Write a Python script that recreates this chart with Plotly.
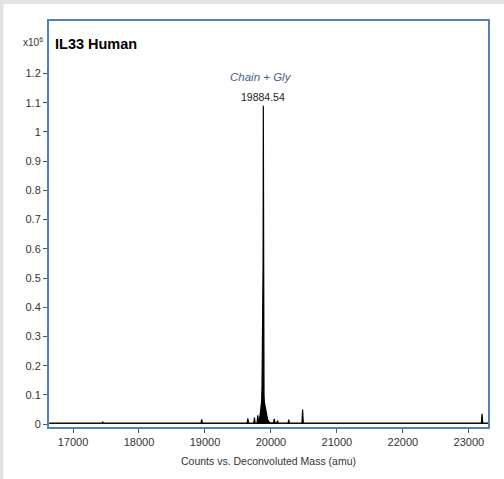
import plotly.graph_objects as go

# Deconvoluted mass spectrum (stick-like profile), intensity in units of 1e6 counts
mass = [16640, 17000, 17440, 17450, 17460, 18000, 18500, 18940, 18950, 18960,
        19400, 19640, 19650, 19660, 19740, 19750, 19760, 19790, 19800, 19810,
        19820, 19835, 19848, 19858, 19865, 19870, 19873, 19877, 19881, 19884.54,
        19887, 19890, 19895, 19900, 19910, 19920, 19935, 19950, 19970, 19990,
        20040, 20050, 20060, 20090, 20100, 20110, 20260, 20270, 20280, 20470,
        20480, 20490, 21000, 22000, 23190, 23200, 23210, 23290]
intensity = [0.003, 0.003, 0.003, 0.008, 0.003, 0.003, 0.003, 0.003, 0.016, 0.003,
             0.003, 0.003, 0.02, 0.003, 0.003, 0.022, 0.003, 0.004, 0.03, 0.008,
             0.015, 0.03, 0.055, 0.075, 0.13, 0.31, 0.18, 0.26, 0.55, 1.09,
             0.45, 0.22, 0.1, 0.075, 0.06, 0.045, 0.025, 0.015, 0.008, 0.004,
             0.004, 0.018, 0.004, 0.004, 0.012, 0.003, 0.003, 0.015, 0.003, 0.003,
             0.05, 0.003, 0.003, 0.003, 0.003, 0.035, 0.003, 0.003]

x_ticks = [17000, 18000, 19000, 20000, 21000, 22000, 23000]
y_ticks = [0, 0.1, 0.2, 0.3, 0.4, 0.5, 0.6, 0.7, 0.8, 0.9, 1, 1.1, 1.2]
y_tick_labels = ["0", "0.1", "0.2", "0.3", "0.4", "0.5", "0.6", "0.7", "0.8", "0.9", "1", "1.1", "1.2"]

peak_mass = 19884.54
peak_label = "19884.54"
peak_name = "Chain + Gly"
title_text = "IL33 Human"

narrow = "Liberation Sans Narrow, Arial Narrow, Liberation Sans, Arial, sans-serif"

fig = go.Figure()
fig.add_trace(go.Scatter(x=mass, y=intensity, mode="lines",
                         line=dict(color="black", width=1.2), fill="tozeroy",
                         fillcolor="black", showlegend=False, hoverinfo="skip"))

fig.update_layout(
    width=504, height=479,
    margin=dict(l=49, r=16, t=21, b=52),
    paper_bgcolor="white", plot_bgcolor="white",
    font=dict(family=narrow, size=11, color="#333"),
    xaxis=dict(range=[16636, 23290], tickvals=x_ticks, ticktext=[str(v) for v in x_ticks],
               showgrid=False, zeroline=False, ticks="outside", ticklen=4,
               tickcolor="#555", showline=True, linecolor="#4f81bd", linewidth=2,
               mirror=True, tickfont=dict(size=11, family=narrow, color="#333"),
               title=dict(text="Counts vs. Deconvoluted Mass (amu)", standoff=10,
                          font=dict(size=10.5, family=narrow, color="#333"))),
    yaxis=dict(range=[-0.01, 1.38], tickvals=y_ticks, ticktext=y_tick_labels,
               showgrid=False, zeroline=False, ticks="outside", ticklen=4,
               tickcolor="#555", showline=True, linecolor="#4f81bd", linewidth=2,
               mirror=True, tickfont=dict(size=11, family=narrow, color="#333")),
    annotations=[
        dict(x=peak_mass, y=1.12, xref="x", yref="y", text=peak_label, showarrow=False,
             yanchor="middle", font=dict(size=10.5, family=narrow, color="#222")),
        dict(x=peak_mass - 40, y=1.19, xref="x", yref="y", text="<i>" + peak_name + "</i>",
             showarrow=False, yanchor="middle",
             font=dict(size=11.5, family=narrow, color="#3f5f8f")),
        dict(x=0.107, y=1.30, xref="paper", yref="y", text="<b>" + title_text + "</b>",
             showarrow=False, xanchor="center", yanchor="middle",
             font=dict(size=14.5, family=narrow, color="black")),
        dict(x=0.0, y=1.0, xref="paper", yref="paper", text="x10<sup>6</sup>",
             showarrow=False, xanchor="right", yanchor="bottom", xshift=-4, yshift=-29,
             font=dict(size=10, family=narrow, color="#333")),
    ],
    shapes=[
        dict(type="rect", xref="paper", yref="paper", x0=-0.2, x1=1.1, y0=1.042, y1=1.1,
             fillcolor="#e3e3e3", line=dict(width=0), layer="below"),
        dict(type="rect", xref="paper", yref="paper", x0=-0.12, x1=-0.104, y0=-0.2, y1=1.1,
             fillcolor="#e3e3e3", line=dict(width=0), layer="below"),
    ],
)

fig.write_html("out.html", config={"displayModeBar": False},
               post_script="document.body.style.margin='0';document.body.style.overflow='hidden';")
